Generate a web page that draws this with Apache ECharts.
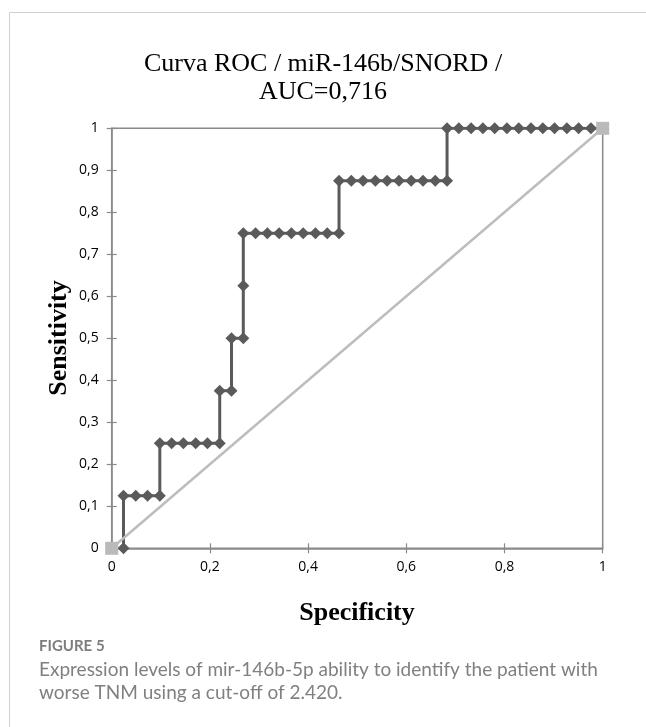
<!DOCTYPE html>
<html>
<head>
<meta charset="utf-8">
<script src="https://cdn.jsdelivr.net/npm/echarts@6/dist/echarts.min.js"></script>
<style>
html,body{margin:0;padding:0;background:#fff;}
#chart{width:646px;height:727px;}
</style>
</head>
<body>
<div id="chart"></div>
<script>
// ROC curve points: x = 1 - specificity (axis labelled "Specificity"), y = sensitivity
var rocX = [0.024, 0.024, 0.049, 0.073, 0.098, 0.098, 0.122, 0.146, 0.171, 0.195, 0.220, 0.220, 0.244, 0.244, 0.268, 0.268, 0.268,
            0.293, 0.317, 0.341, 0.366, 0.390, 0.415, 0.439, 0.463, 0.463,
            0.488, 0.512, 0.537, 0.561, 0.585, 0.610, 0.634, 0.659, 0.683, 0.683,
            0.707, 0.732, 0.756, 0.780, 0.805, 0.829, 0.854, 0.878, 0.902, 0.927, 0.951, 0.976, 1.000];
var rocY = [0, 0.125, 0.125, 0.125, 0.125, 0.25, 0.25, 0.25, 0.25, 0.25, 0.25, 0.375, 0.375, 0.5, 0.5, 0.625, 0.75,
            0.75, 0.75, 0.75, 0.75, 0.75, 0.75, 0.75, 0.75, 0.875,
            0.875, 0.875, 0.875, 0.875, 0.875, 0.875, 0.875, 0.875, 0.875, 1,
            1, 1, 1, 1, 1, 1, 1, 1, 1, 1, 1, 1, 1];
var refX = [0, 1];
var refY = [0, 1];
var xTicks = [0, 0.2, 0.4, 0.6, 0.8, 1];
var yTicks = [0, 0.1, 0.2, 0.3, 0.4, 0.5, 0.6, 0.7, 0.8, 0.9, 1];
var titleText = 'Curva ROC / miR-146b/SNORD /\nAUC=0,716';
var xName = 'Specificity';
var yName = 'Sensitivity';
var figLabel = 'FIGURE 5';
var captionLines = ['Expression levels of mir-146b-5p ability to identify the patient with',
                    'worse TNM using a cut-off of 2.420.'];

function zip(a, b) { return a.map(function (v, i) { return [v, b[i]]; }); }
function fmt(v) { return String(Number(v.toFixed(2))).replace('.', ','); }

var axisGray = '#8a8a8a';
var labelFont = { fontFamily: 'Open Sans', fontSize: 14, color: '#000' };
var nameFont = { fontFamily: 'Liberation Serif', fontSize: 26, fontWeight: 'bold', fill: '#000', align: 'center', verticalAlign: 'middle' };

var chart = echarts.init(document.getElementById('chart'), null, { renderer: 'canvas' });
var option = {
  animation: false,
  backgroundColor: '#fff',
  title: {
    text: titleText,
    left: 'center',
    top: 45,
    textStyle: { fontFamily: 'Liberation Serif', fontSize: 26, fontWeight: 'normal', color: '#000', lineHeight: 28 }
  },
  grid: {
    left: 111.7, right: 43.3, top: 128.3, bottom: 178.7,
    show: true, borderColor: axisGray, borderWidth: 1.5, backgroundColor: 'transparent'
  },
  xAxis: [{
    type: 'value', min: xTicks[0], max: xTicks[xTicks.length - 1], interval: 0.2,
    position: 'bottom',
    axisLine: { show: true, lineStyle: { color: axisGray, width: 1.5 } },
    axisTick: { show: true, inside: false, length: 5, lineStyle: { color: axisGray, width: 1.2 } },
    axisLabel: Object.assign({ margin: 12, formatter: fmt }, labelFont),
    splitLine: { show: false }
  }, {
    type: 'value', min: xTicks[0], max: xTicks[xTicks.length - 1], interval: 0.2,
    position: 'bottom',
    axisLine: { show: false },
    axisTick: { show: true, inside: true, length: 5, lineStyle: { color: axisGray, width: 1.2 } },
    axisLabel: { show: false },
    splitLine: { show: false }
  }],
  yAxis: [{
    type: 'value', min: yTicks[0], max: yTicks[yTicks.length - 1], interval: 0.1,
    position: 'left',
    axisLine: { show: true, lineStyle: { color: axisGray, width: 1.5 } },
    axisTick: { show: true, inside: false, length: 5, lineStyle: { color: axisGray, width: 1.2 } },
    axisLabel: Object.assign({ margin: 13, formatter: fmt }, labelFont),
    splitLine: { show: false }
  }, {
    type: 'value', min: yTicks[0], max: yTicks[yTicks.length - 1], interval: 0.1,
    position: 'left',
    axisLine: { show: false },
    axisTick: { show: true, inside: true, length: 5, lineStyle: { color: axisGray, width: 1.2 } },
    axisLabel: { show: false },
    splitLine: { show: false }
  }],
  series: [{
    type: 'line',
    data: zip(rocX, rocY),
    xAxisIndex: 0, yAxisIndex: 0,
    symbol: 'diamond', symbolSize: 12, showAllSymbol: true,
    lineStyle: { color: '#5a5a5a', width: 3 },
    itemStyle: { color: '#5a5a5a' },
    z: 3
  }, {
    type: 'line',
    data: zip(refX, refY),
    xAxisIndex: 0, yAxisIndex: 0,
    symbol: 'rect', symbolSize: 13, showAllSymbol: true,
    lineStyle: { color: '#bdbdbd', width: 2.5 },
    itemStyle: { color: '#bababa' },
    z: 4
  }],
  graphic: [
    { type: 'line', shape: { x1: 9.5, y1: 12.5, x2: 646, y2: 12.5 }, style: { stroke: '#cfcfcf', lineWidth: 1 } },
    { type: 'line', shape: { x1: 9.5, y1: 12.5, x2: 9.5, y2: 727 }, style: { stroke: '#cfcfcf', lineWidth: 1 } },
    { type: 'text', x: 357, y: 613, style: Object.assign({ text: xName }, nameFont) },
    { type: 'text', x: 59, y: 338, rotation: Math.PI / 2, style: Object.assign({ text: yName }, nameFont) },
    { type: 'text', x: 39, y: 646, style: { text: figLabel, fontFamily: 'Lato', fontSize: 15, fontWeight: 'bold', fill: '#7d7d7d', verticalAlign: 'middle' } },
    { type: 'text', x: 39, y: 669.5, style: { text: captionLines[0], fontFamily: 'Lato', fontSize: 19, fill: '#808080', verticalAlign: 'middle' } },
    { type: 'text', x: 39, y: 693, style: { text: captionLines[1], fontFamily: 'Lato', fontSize: 19, fill: '#808080', verticalAlign: 'middle' } }
  ]
};
chart.setOption(option);
</script>
</body>
</html>
